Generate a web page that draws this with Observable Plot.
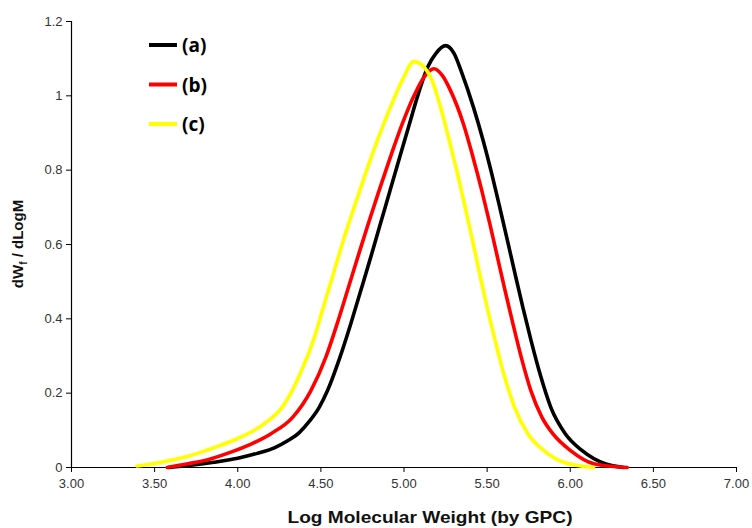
<!DOCTYPE html>
<html>
<head>
<meta charset="utf-8">
<script src="https://cdn.jsdelivr.net/npm/d3@7"></script>
<script src="https://cdn.jsdelivr.net/npm/@observablehq/plot@0.6"></script>
<style>
  html, body { margin: 0; padding: 0; background: #fff; }
  #chart { width: 752px; height: 528px; }
</style>
</head>
<body>
<div id="chart"></div>
<script>
// ---- data ----
const seriesNames = ["(a)", "(b)", "(c)"];
const seriesColors = ["#000000", "#ff0000", "#ffff00"];

const aX = [3.585, 3.720, 3.856, 4.000, 4.117, 4.220, 4.300, 4.370, 4.430, 4.490, 4.540, 4.615, 4.680, 4.740, 4.800, 4.858, 4.916, 4.974, 5.033, 5.092, 5.142, 5.190, 5.250, 5.300, 5.350, 5.418, 5.476, 5.528, 5.576, 5.622, 5.668, 5.715, 5.764, 5.818, 5.883, 5.970, 6.070, 6.210, 6.320];
const aY = [0.000, 0.006, 0.014, 0.025, 0.038, 0.053, 0.072, 0.094, 0.124, 0.162, 0.207, 0.297, 0.387, 0.476, 0.566, 0.656, 0.745, 0.835, 0.925, 1.014, 1.077, 1.113, 1.135, 1.115, 1.059, 0.969, 0.880, 0.790, 0.700, 0.611, 0.521, 0.431, 0.342, 0.252, 0.162, 0.091, 0.046, 0.010, 0.000];

const bX = [3.576, 3.700, 3.820, 3.950, 4.080, 4.200, 4.330, 4.440, 4.530, 4.598, 4.660, 4.722, 4.785, 4.850, 4.918, 4.990, 5.060, 5.120, 5.180, 5.230, 5.280, 5.357, 5.415, 5.468, 5.516, 5.562, 5.608, 5.655, 5.705, 5.763, 5.830, 5.895, 6.000, 6.142, 6.343];
const bY = [0.000, 0.010, 0.021, 0.040, 0.063, 0.091, 0.135, 0.207, 0.297, 0.387, 0.476, 0.566, 0.656, 0.745, 0.835, 0.925, 1.000, 1.050, 1.073, 1.055, 1.014, 0.925, 0.835, 0.745, 0.656, 0.566, 0.476, 0.387, 0.297, 0.207, 0.135, 0.091, 0.046, 0.010, 0.000];

const cX = [3.395, 3.550, 3.700, 3.850, 4.000, 4.100, 4.180, 4.260, 4.320, 4.375, 4.455, 4.515, 4.575, 4.635, 4.700, 4.768, 4.840, 4.918, 4.989, 5.060, 5.110, 5.170, 5.220, 5.272, 5.322, 5.368, 5.412, 5.455, 5.500, 5.548, 5.600, 5.665, 5.745, 5.840, 5.960, 6.140];
const cY = [0.004, 0.015, 0.030, 0.052, 0.078, 0.100, 0.125, 0.158, 0.200, 0.252, 0.342, 0.431, 0.521, 0.611, 0.700, 0.790, 0.880, 0.969, 1.041, 1.092, 1.082, 1.040, 0.969, 0.880, 0.790, 0.700, 0.611, 0.521, 0.431, 0.342, 0.252, 0.162, 0.091, 0.046, 0.014, 0.000];

const xTicks = [3.0, 3.5, 4.0, 4.5, 5.0, 5.5, 6.0, 6.5, 7.0];
const yTicks = [0, 0.2, 0.4, 0.6, 0.8, 1.0, 1.2];
const xLabel = "Log Molecular Weight (by GPC)";
// ----------------------------------------

const seriesX = [aX, bX, cX];
const seriesY = [aY, bY, cY];
const rows = [];
seriesNames.forEach((name, i) => {
  seriesX[i].forEach((x, j) => rows.push({series: name, x, y: seriesY[i][j]}));
});

const chart = Plot.plot({
  width: 752,
  height: 528,
  marginLeft: 71,
  marginRight: 16,
  marginTop: 21,
  marginBottom: 61,
  style: {fontFamily: "'Liberation Sans', Arial, sans-serif", fontSize: "13px", background: "#fff"},
  x: {domain: [3, 7], label: null},
  y: {domain: [0, 1.2], label: null},
  color: {domain: seriesNames, range: seriesColors},
  marks: [
    Plot.axisX(xTicks, {tickSize: 5, tickPadding: 6, tickFormat: d3.format(".2f"), stroke: "#000", fill: "#333", label: null}),
    Plot.axisY(yTicks, {tickSize: 5, tickPadding: 4, tickFormat: d => String(+d.toFixed(1)), stroke: "#000", fill: "#333", label: null}),
    Plot.ruleX([3], {stroke: "#000", strokeWidth: 1.2}),
    Plot.ruleY([0], {stroke: "#000", strokeWidth: 1.2}),
    Plot.line(rows, {x: "x", y: "y", z: "series", stroke: "series", strokeWidth: 3.6, curve: "monotone-x"})
  ]
});

document.getElementById("chart").appendChild(chart);

const svg = d3.select(chart);

// x-axis title
svg.append("text")
  .attr("x", 430).attr("y", 523)
  .attr("text-anchor", "middle")
  .attr("font-family", "'Liberation Sans', Arial, sans-serif")
  .attr("font-weight", "bold")
  .attr("font-size", 17)
  .attr("fill", "#111")
  .attr("textLength", 285)
  .attr("lengthAdjust", "spacingAndGlyphs")
  .text(xLabel);

// y-axis title with subscript
const yt = svg.append("text")
  .attr("transform", "translate(23,244) rotate(-90)")
  .attr("text-anchor", "middle")
  .attr("font-family", "'Liberation Sans', Arial, sans-serif")
  .attr("font-weight", "bold")
  .attr("font-size", 15)
  .attr("fill", "#111");
yt.append("tspan").text("dW");
yt.append("tspan").attr("font-size", 10).attr("dy", 4).text("f");
yt.append("tspan").attr("dy", -4).text(" / dLogM");

// legend
const leg = svg.append("g").attr("text-anchor", "start");
seriesNames.forEach((name, i) => {
  const y = 45 + i * 39.5;
  leg.append("line")
    .attr("x1", 149).attr("x2", 177).attr("y1", y).attr("y2", y)
    .attr("stroke", seriesColors[i]).attr("stroke-width", 4);
  leg.append("text")
    .attr("x", 182).attr("y", y + 7)
    .attr("text-anchor", "start")
    .attr("font-family", "'Open Sans', 'DejaVu Sans', sans-serif")
    .attr("font-weight", "bold")
    .attr("font-size", 19)
    .attr("fill", "#000")
    .text(name);
});
</script>
</body>
</html>
